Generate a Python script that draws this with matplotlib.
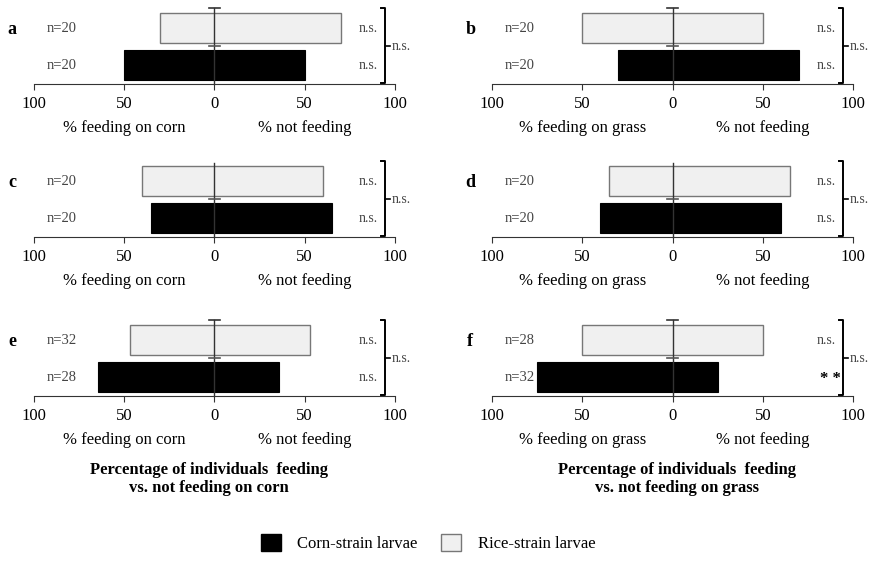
import matplotlib
matplotlib.use('Agg')
import matplotlib.pyplot as plt
from matplotlib.lines import Line2D
from matplotlib.patches import Patch

plt.rcParams['font.family'] = ['Liberation Serif', 'DejaVu Serif']

# panel data: % feeding (left) / % not feeding (right)
panels = ['a', 'b', 'c', 'd', 'e', 'f']
host = ['corn', 'grass', 'corn', 'grass', 'corn', 'grass']
corn_feed = [50, 30, 35, 40, 64.3, 75]
corn_not = [50, 70, 65, 60, 35.7, 25]
rice_feed = [30, 50, 40, 35, 46.9, 50]
rice_not = [70, 50, 60, 65, 53.1, 50]
n_corn = ['n=20', 'n=20', 'n=20', 'n=20', 'n=28', 'n=32']
n_rice = ['n=20', 'n=20', 'n=20', 'n=20', 'n=32', 'n=28']
sig_corn = ['n.s.', 'n.s.', 'n.s.', 'n.s.', 'n.s.', '* *']
sig_rice = ['n.s.'] * 6
sig_between = ['n.s.'] * 6
top_cap = [True, True, False, False, True, True]

ticks = [-100, -50, 0, 50, 100]
tick_labels = ['100', '50', '0', '50', '100']

W, H = 873, 567
fig = plt.figure(figsize=(W / 100, H / 100), dpi=100)

col_left = [34, 492]
row_axis = [84, 237, 396]
ax_h = 78

for i, p in enumerate(panels):
    r, c = i // 2, i % 2
    ax = fig.add_axes([col_left[c] / W, 1 - row_axis[r] / H, 361 / W, ax_h / H])
    ax.set_xlim(-100, 100)
    ax.set_ylim(0.5, 2.6)
    for s in ['top', 'left', 'right']:
        ax.spines[s].set_visible(False)
    ax.spines['bottom'].set_color('#333333')
    ax.set_yticks([])
    ax.set_xticks(ticks)
    ax.set_xticklabels(tick_labels, fontsize=12)
    ax.tick_params(axis='x', direction='out', length=4, pad=5, color='#333333')

    # bars
    ax.barh(1, corn_feed[i] + corn_not[i], left=-corn_feed[i], height=0.81,
            color='black', edgecolor='black', linewidth=0.8)
    ax.barh(2, rice_feed[i] + rice_not[i], left=-rice_feed[i], height=0.81,
            color='#f0f0f0', edgecolor='#777777', linewidth=1.0)

    # centre line with caps
    top = 2.54 if top_cap[i] else 2.49
    ax.add_line(Line2D([0, 0], [0.5, top], color='#333333', lw=1.0, clip_on=False))
    ax.add_line(Line2D([-3, 3], [1.52, 1.52], color='#555555', lw=1.2))
    if top_cap[i]:
        ax.add_line(Line2D([-3, 3], [top, top], color='#333333', lw=1.2, clip_on=False))

    # sample sizes and significance
    ax.text(-84.5, 2, n_rice[i], fontsize=10.5, ha='center', va='center', color='#444444')
    ax.text(-84.5, 1, n_corn[i], fontsize=10.5, ha='center', va='center', color='#444444')
    ax.text(85, 2, sig_rice[i], fontsize=10, ha='center', va='center', color='#444444')
    if sig_corn[i] == '* *':
        ax.text(87.5, 0.95, sig_corn[i], fontsize=12, fontweight='bold', ha='center', va='center')
    else:
        ax.text(85, 1, sig_corn[i], fontsize=10, ha='center', va='center', color='#444444')

    # bracket
    bx = 94.5
    ax.add_line(Line2D([bx - 2, bx, bx, bx - 2], [2.54, 2.54, 0.53, 0.53],
                       color='black', lw=1.4, clip_on=False))
    ax.add_line(Line2D([bx, bx + 2.5], [1.52, 1.52], color='black', lw=1.2, clip_on=False))
    ax.text(bx + 3.5, 1.52, sig_between[i], fontsize=10, ha='left', va='center', color='#444444')

    # panel letter
    ax.text(-112, 1.98, p, fontsize=13, fontweight='bold', ha='center', va='center')

    # side labels
    ax.text(-50, -0.68, '% feeding on ' + host[i], fontsize=12, ha='center', va='center')
    ax.text(50, -0.68, '% not feeding', fontsize=12, ha='center', va='center')

fig.text(209 / W, 1 - 479 / H,
         'Percentage of individuals  feeding\nvs. not feeding on corn',
         fontsize=12, fontweight='bold', ha='center', va='center', linespacing=1.1)
fig.text(677 / W, 1 - 479 / H,
         'Percentage of individuals  feeding\nvs. not feeding on grass',
         fontsize=12, fontweight='bold', ha='center', va='center', linespacing=1.1)

handles = [Patch(facecolor='black', edgecolor='black'),
           Patch(facecolor='#f0f0f0', edgecolor='#777777')]
fig.legend(handles, ['Corn-strain larvae', 'Rice-strain larvae'], ncol=2,
           loc='center', bbox_to_anchor=(428 / W, 1 - 543 / H), frameon=False,
           fontsize=12, handlelength=1.2, handleheight=1.2, handletextpad=1.0,
           columnspacing=1.4)

fig.savefig('out.png', dpi=100)
